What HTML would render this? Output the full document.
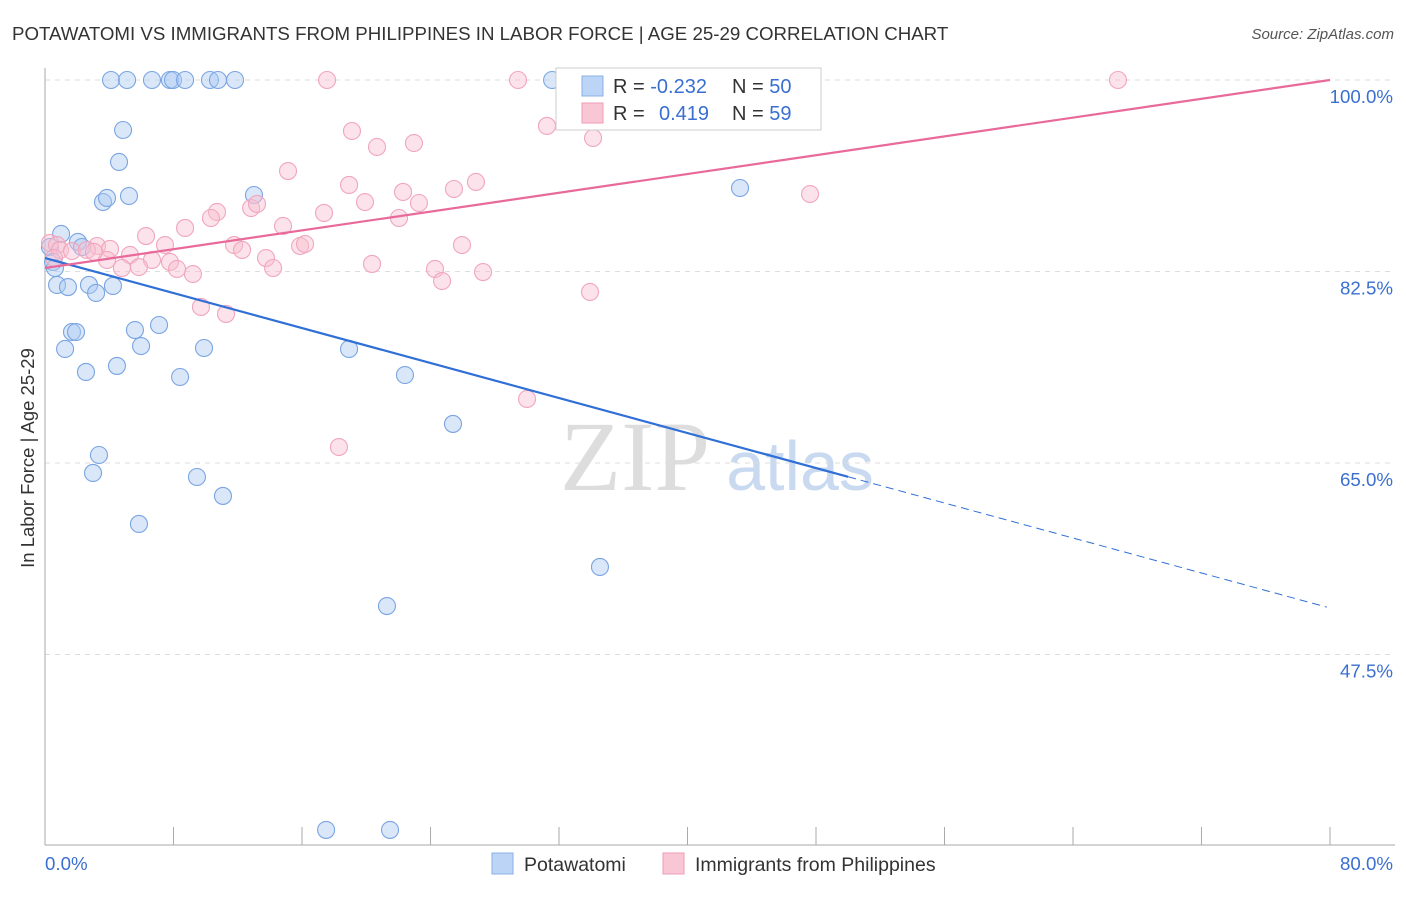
<!DOCTYPE html>
<html><head><meta charset="utf-8"><style>
body{margin:0;background:#fff;font-family:"Liberation Sans",sans-serif}
</style></head><body>
<svg id="chart" width="1406" height="892" xmlns="http://www.w3.org/2000/svg" font-family="Liberation Sans, sans-serif">
<text x="12" y="40" font-size="18.7" fill="#333">POTAWATOMI VS IMMIGRANTS FROM PHILIPPINES IN LABOR FORCE | AGE 25-29 CORRELATION CHART</text>
<text x="1394" y="39" font-size="15" fill="#555" text-anchor="end" font-style="italic">Source: ZipAtlas.com</text>
<text transform="translate(34,458) rotate(-90)" font-size="18.5" fill="#333" text-anchor="middle">In Labor Force | Age 25-29</text>
<g>
<text x="635" y="490" font-size="100" fill="#ddd" font-family="Liberation Serif, serif" text-anchor="middle">ZIP</text>
<text x="800" y="490" font-size="70" fill="#c9daf0" text-anchor="middle">atlas</text>
</g>
<g id="grid"></g><g id="axes"></g><g id="pts"></g><g id="trend"></g>
<g>
<rect x="556" y="68" width="265" height="62" fill="#fff" stroke="#ccc"/>
<rect x="582" y="76" width="21" height="20" fill="#bcd4f5" stroke="#8ab0e6"/>
<rect x="582" y="103" width="21" height="20" fill="#f9c6d5" stroke="#ee9db6"/>
<text x="613" y="93" font-size="20" fill="#333">R = <tspan fill="#3a6fd0">-0.232</tspan><tspan x="732">N = </tspan><tspan fill="#3a6fd0">50</tspan></text>
<text x="613" y="120" font-size="20" fill="#333">R = <tspan x="659" fill="#3a6fd0">0.419</tspan><tspan x="732">N = </tspan><tspan fill="#3a6fd0">59</tspan></text>
</g>
<g>
<rect x="492" y="853" width="21" height="21" fill="#bcd4f5" stroke="#8ab0e6"/>
<text x="524" y="871" font-size="19.5" fill="#333">Potawatomi</text>
<rect x="663" y="853" width="21" height="21" fill="#f9c6d5" stroke="#ee9db6"/>
<text x="695" y="871" font-size="19.5" fill="#333">Immigrants from Philippines</text>
</g>
</svg>
<script>
const blueX=[4.11,5.11,6.66,7.78,7.97,8.72,10.27,10.77,11.83,31.57,4.86,4.61,3.61,3.86,5.23,13.01,43.27,1.0,0.31,2.05,2.3,0.5,0.62,0.75,1.43,2.74,3.18,4.23,1.68,1.93,5.6,7.1,5.98,1.25,9.9,18.93,2.55,4.48,8.41,22.41,25.4,3.36,2.99,9.46,11.08,5.85,34.55,21.29,17.5,21.48];
const blueY=[100,100,100,100,100,100,100,100,100,100,95.43,92.51,88.85,89.22,89.4,89.49,90.13,85.93,84.74,85.2,84.74,83.37,82.82,81.27,81.08,81.27,80.54,81.18,76.97,76.97,77.15,77.61,75.69,75.42,75.51,75.42,73.32,73.87,72.86,73.04,68.57,65.73,64.09,63.72,61.99,59.43,55.5,51.93,31.47,31.47];
const pinkX=[17.56,29.45,66.8,19.11,31.25,20.67,22.97,34.12,15.13,18.93,22.29,25.46,26.83,47.63,19.92,23.28,10.71,10.33,12.83,13.2,17.37,22.04,8.72,6.29,14.82,0.31,0.75,0.93,1.68,3.24,4.05,7.47,11.77,12.27,15.88,16.19,25.96,5.29,3.86,6.66,4.79,5.85,7.78,8.22,9.21,13.76,14.2,20.36,24.28,27.27,24.72,33.93,9.71,11.27,30.01,18.3,2.61,3.05,0.56];
const pinkY=[100,100,100,95.34,95.8,93.88,94.24,94.7,91.68,90.41,89.77,90.04,90.68,89.58,88.85,88.76,87.94,87.39,88.3,88.67,87.85,87.39,86.48,85.74,86.66,85.11,84.92,84.47,84.37,84.83,84.56,84.92,84.92,84.47,84.83,85.01,84.92,84.01,83.55,83.55,82.82,82.91,83.37,82.73,82.27,83.73,82.82,83.19,82.73,82.45,81.63,80.63,79.26,78.62,70.85,66.46,84.47,84.29,83.73];
const yTicks=[100,82.5,65,47.5];
const yTickLabels=["100.0%","82.5%","65.0%","47.5%"];
const blueTrend=[83.73,51.75];
const pinkTrend=[82.82,100];
const ns="http://www.w3.org/2000/svg";
const sx=v=>45+v/80*1285, sy=v=>80+(100-v)/17.5*191.5;
function mk(p,t,a){const e=document.createElementNS(ns,t);for(const k in a)e.setAttribute(k,a[k]);document.getElementById(p).appendChild(e);return e;}
yTicks.forEach((t,i)=>{
 const g=mk('grid','line',{x1:45,x2:1395,y1:sy(t),y2:sy(t),stroke:'#ddd','stroke-dasharray':'5,5'});
 
 
 const l=mk('axes','text',{x:1393,y:sy(t)+23,'font-size':18.7,fill:'#3a6fd0','text-anchor':'end'});
 l.textContent=yTickLabels[i];
 
 
});
let a=mk('axes','line',{x1:45,x2:45,y1:68,y2:845,stroke:'#aaa'});


a=mk('axes','line',{x1:45,x2:1395,y1:845,y2:845,stroke:'#aaa'});


for(let i=0;i<=10;i++){const t=mk('axes','line',{x1:sx(i*8),x2:sx(i*8),y1:827,y2:845,stroke:'#aaa'});
 
 }
let xl=mk('axes','text',{x:45,y:870,'font-size':18.7,fill:'#3a6fd0'});xl.textContent='0.0%';


xl=mk('axes','text',{x:1393,y:870,'font-size':18.7,fill:'#3a6fd0','text-anchor':'end'});xl.textContent='80.0%';


blueX.forEach((x,i)=>{const c=mk('pts','circle',{cx:sx(x),cy:sy(blueY[i]),r:8.5,fill:'rgba(170,202,242,0.45)',stroke:'#7aa5e2','stroke-width':1.1});
 
 });
pinkX.forEach((x,i)=>{const c=mk('pts','circle',{cx:sx(x),cy:sy(pinkY[i]),r:8.5,fill:'rgba(248,190,208,0.45)',stroke:'#f0a6bd','stroke-width':1.1});
 
 });
const by=x=>blueTrend[0]+(blueTrend[1]-blueTrend[0])*x/80;
let t=mk('trend','line',{x1:sx(0),y1:sy(by(0)),x2:sx(50),y2:sy(by(50)),stroke:'#2f6fd6','stroke-width':2.2});


t=mk('trend','line',{x1:sx(50),y1:sy(by(50)),x2:sx(79.8),y2:sy(by(79.8)),stroke:'#2f6fd6','stroke-width':1,'stroke-dasharray':'8,5'});


t=mk('trend','line',{x1:sx(0),y1:sy(pinkTrend[0]),x2:sx(80),y2:sy(pinkTrend[1]),stroke:'#e8699a','stroke-width':2.2});


</script>
</body></html>
